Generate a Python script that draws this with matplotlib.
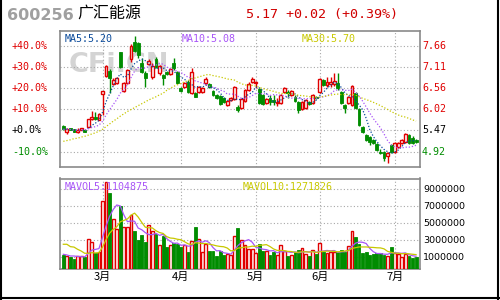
import matplotlib
matplotlib.use('Agg')
import matplotlib.pyplot as plt
from matplotlib.lines import Line2D
import numpy as np
import pandas as pd

plt.rcParams['font.family'] = ['DejaVu Sans', 'Noto Sans CJK SC']

code = '600256'
name = '广汇能源'
quote = '5.17 +0.02 (+0.39%)'
base_price = 5.47

# daily bars, Feb .. early Jul
opens = [5.58, 5.43, 5.53, 5.50, 5.43, 5.49, 5.47, 5.56, 5.76, 5.81,
         5.74, 6.41, 6.87, 7.00, 6.68, 6.69, 7.49, 6.48, 6.69, 7.31,
         7.75, 7.72, 7.21, 6.95, 7.18, 6.85, 7.31, 6.95, 6.90, 6.99,
         6.92, 7.21, 6.97, 6.56, 6.59, 6.72, 6.43, 6.43, 6.46, 6.46,
         6.69, 6.66, 6.48, 6.38, 6.36, 6.30, 6.12, 6.25, 6.28, 6.07,
         6.05, 6.23, 6.51, 6.72, 6.69, 6.54, 6.38, 6.17, 6.30, 6.25,
         6.17, 6.17, 6.46, 6.47, 6.38, 6.33, 6.20, 6.02, 6.05, 6.21,
         6.17, 6.34, 6.46, 6.77, 6.64, 6.66, 6.66, 6.69, 6.46, 6.12,
         6.17, 6.12, 6.43, 6.02, 5.56, 5.35, 5.30, 5.22, 5.12, 4.92,
         4.91, 4.81, 5.09, 4.91, 5.04, 5.14, 5.17, 5.35, 5.27, 5.22]
highs = [5.61, 5.53, 5.54, 5.51, 5.53, 5.54, 5.48, 5.77, 5.97, 5.94,
         5.92, 6.48, 7.15, 7.05, 6.82, 6.85, 7.49, 6.72, 7.05, 7.70,
         7.90, 7.75, 7.34, 7.00, 7.31, 7.21, 7.36, 7.15, 6.92, 7.00,
         7.08, 7.34, 7.00, 6.59, 6.72, 6.77, 7.08, 6.46, 6.61, 6.59,
         6.85, 6.69, 6.51, 6.41, 6.38, 6.33, 6.25, 6.33, 6.61, 6.12,
         6.30, 6.54, 6.72, 6.85, 6.74, 6.56, 6.41, 6.30, 6.38, 6.38,
         6.30, 6.41, 6.59, 6.51, 6.51, 6.38, 6.23, 6.23, 6.28, 6.23,
         6.41, 6.36, 6.82, 6.79, 6.85, 6.85, 6.95, 6.95, 6.48, 6.15,
         6.36, 6.64, 6.46, 6.05, 5.58, 5.37, 5.32, 5.25, 5.14, 4.99,
         4.94, 4.91, 5.12, 5.17, 5.17, 5.25, 5.40, 5.37, 5.32, 5.25]
lows = [5.47, 5.37, 5.47, 5.42, 5.40, 5.48, 5.42, 5.55, 5.74, 5.74,
        5.74, 5.87, 6.85, 6.43, 6.64, 6.66, 7.08, 6.46, 6.66, 7.23,
        7.49, 7.34, 6.95, 6.59, 7.15, 6.79, 7.08, 6.90, 6.64, 6.90,
        6.90, 7.03, 6.66, 6.46, 6.56, 6.43, 6.41, 6.33, 6.43, 6.43,
        6.64, 6.56, 6.36, 6.28, 6.12, 6.17, 6.10, 6.23, 6.25, 5.94,
        6.02, 6.20, 6.48, 6.69, 6.56, 6.15, 6.12, 6.15, 6.12, 6.12,
        6.10, 6.15, 6.43, 6.30, 6.36, 6.20, 5.92, 5.99, 6.02, 6.12,
        6.15, 6.28, 6.43, 6.61, 6.59, 6.59, 6.61, 6.51, 6.15, 5.92,
        6.15, 6.10, 6.02, 5.58, 5.40, 5.19, 5.09, 5.12, 4.94, 4.86,
        4.68, 4.63, 4.88, 4.88, 5.01, 5.12, 5.14, 5.12, 5.12, 5.14]
closes = [5.50, 5.51, 5.48, 5.43, 5.48, 5.53, 5.43, 5.76, 5.81, 5.76,
          5.89, 6.48, 7.13, 6.82, 6.77, 6.82, 7.10, 6.69, 7.03, 7.64,
          7.52, 7.41, 6.97, 6.82, 7.26, 7.13, 7.10, 7.13, 6.82, 6.92,
          7.05, 7.08, 6.69, 6.48, 6.69, 6.46, 6.97, 6.33, 6.59, 6.56,
          6.79, 6.59, 6.38, 6.30, 6.15, 6.20, 6.23, 6.30, 6.59, 5.99,
          6.28, 6.51, 6.66, 6.79, 6.72, 6.17, 6.15, 6.28, 6.20, 6.20,
          6.21, 6.38, 6.56, 6.43, 6.48, 6.23, 5.99, 6.20, 6.25, 6.15,
          6.38, 6.30, 6.79, 6.64, 6.72, 6.72, 6.74, 6.56, 6.17, 6.05,
          6.33, 6.61, 6.05, 5.61, 5.43, 5.22, 5.17, 5.14, 4.96, 4.88,
          4.76, 4.88, 4.91, 5.14, 5.14, 5.22, 5.37, 5.14, 5.15, 5.17]
# volume, millions of shares
volumes_m = [1.27, 1.15, 1.07, 0.84, 1.15, 1.15, 1.04, 3.10, 2.80, 1.54,
             1.62, 7.62, 9.86, 8.53, 5.47, 4.29, 7.04, 4.56, 4.56, 5.94,
             4.09, 3.04, 3.59, 2.84, 4.76, 4.09, 3.78, 2.41, 3.51, 2.25,
             2.41, 2.65, 2.53, 2.25, 2.45, 1.62, 2.92, 4.56, 3.12, 1.62,
             2.53, 1.74, 1.74, 1.15, 1.74, 1.27, 1.42, 1.23, 3.51, 4.45,
             3.00, 2.45, 1.98, 2.01, 1.47, 2.53, 1.74, 1.74, 1.27, 1.62,
             1.27, 2.41, 1.74, 1.15, 1.27, 1.62, 1.86, 2.13, 1.42, 1.15,
             1.86, 1.42, 2.65, 1.62, 1.47, 1.62, 1.62, 1.62, 1.86, 1.62,
             2.33, 4.09, 3.39, 2.53, 1.47, 1.62, 1.23, 1.42, 1.47, 1.47,
             1.23, 1.15, 2.25, 1.54, 1.35, 1.04, 1.42, 1.15, 0.95, 1.04]

# moving average values before a full window exists
ma30_lead = [5.19, 5.21, 5.23, 5.26, 5.27, 5.30, 5.32, 5.35, 5.38, 5.41,
             5.45, 5.50, 5.57, 5.64, 5.71, 5.77, 5.84, 5.90, 5.96, 6.01,
             6.06, 6.11, 6.16, 6.21, 6.26, 6.30, 6.34, 6.39, 6.43]
vol_ma5_lead = [1.35, 1.27, 1.15, 1.15]
vol_ma10_lead = [2.53, 2.53, 2.25, 2.20, 1.94, 1.74, 1.47, 1.47, 1.54]

month_start = [11, 33, 54, 72, 93]
month_names = ['3月', '4月', '5月', '6月', '7月']

ma_labels = ['MA5:5.20', 'MA10:5.08', 'MA30:5.70']
vol_labels = ['MAVOL5:1104875', 'MAVOL10:1271826']
vol_ticks = [1000000, 3000000, 5000000, 7000000, 9000000]

RED = '#e00000'
GREEN = '#008c00'
MA_COLORS = ['#0a4a9a', '#a855f7', '#c8c800']
GRID = '#a8a8a8'
MONO = 'DejaVu Sans Mono'


def moving(values, n, lead=None):
    s = pd.Series(values).rolling(n, min_periods=1).mean()
    if lead is not None:
        s.iloc[:len(lead)] = lead
    return s.values


def px_box(left, top, right, bottom):
    return [left / 500, 1 - bottom / 300, (right - left) / 500, (bottom - top) / 300]


def fx(x):
    return x / 500


def fy(y):
    return 1 - y / 300


o = np.array(opens)
h = np.array(highs)
l = np.array(lows)
c = np.array(closes)
vol = np.array(volumes_m) * 1e6
idx = np.arange(len(c))
up = c >= o

fig = plt.figure(figsize=(5, 3), dpi=100)
fig.patch.set_facecolor('white')

ax = fig.add_axes(px_box(60, 31, 420, 167))
axv = fig.add_axes(px_box(60, 178.5, 420, 269))

xlim = (-0.93, 100.1)
levels = [base_price * (1 + k / 10) for k in range(-1, 5)]

for a in (ax, axv):
    a.set_xlim(*xlim)
    a.set_xticks([])
    a.set_yticks([])
    for sp in a.spines.values():
        sp.set_color('#8a8a8a')
        sp.set_linewidth(1.2)
    for m in month_start:
        a.axvline(m, color=GRID, lw=0.8, ls=(0, (1, 2)), zorder=1)

ax.set_ylim(4.528, 8.037)
for lv in levels:
    ax.axhline(lv, color=GRID, lw=0.8, ls=(0, (1, 2)), zorder=1)

# watermark
ax.text(fx(69), fy(65), 'CFi.CN', transform=fig.transFigure, fontsize=19.5,
        fontweight='bold', color='#d4d4d4', va='center', ha='left', zorder=0.5)

# candles
ax.vlines(idx, l, h, colors=np.where(up, RED, GREEN), lw=1.0, zorder=2)
body = np.maximum(np.abs(c - o), 0.015)
ax.bar(idx[up], body[up], bottom=np.minimum(o, c)[up], width=0.8,
       facecolor='white', edgecolor=RED, lw=1.0, zorder=3)
ax.bar(idx[~up], body[~up], bottom=np.minimum(o, c)[~up], width=0.8,
       facecolor=GREEN, edgecolor=GREEN, lw=0.6, zorder=3)

for n, col, lead in zip([5, 10, 30], MA_COLORS, [None, None, ma30_lead]):
    ax.plot(idx, moving(c, n, lead), color=col, lw=0.9, ls=(0, (1, 1.5)), zorder=4)

# volume
vmin, vmax = -0.38e6, 10.27e6
axv.set_ylim(vmin, vmax)
for t in vol_ticks:
    axv.axhline(t, color=GRID, lw=0.8, ls=(0, (1, 2)), zorder=1)
axv.bar(idx[up], vol[up] - vmin, bottom=vmin, width=0.8,
        facecolor='white', edgecolor=RED, lw=1.0, zorder=3)
axv.bar(idx[~up], vol[~up] - vmin, bottom=vmin, width=0.8,
        facecolor=GREEN, edgecolor=GREEN, lw=0.6, zorder=3)
axv.plot(idx, moving(vol, 5, np.array(vol_ma5_lead) * 1e6), color=MA_COLORS[1], lw=0.9, zorder=4)
axv.plot(idx, moving(vol, 10, np.array(vol_ma10_lead) * 1e6), color=MA_COLORS[2], lw=0.9, zorder=4)

# header
fig.text(fx(7), fy(16), code, fontsize=11.5, fontweight='bold', color='#a0a0a0', va='center')
fig.text(fx(77), fy(14.5), name, fontsize=11.5, color='black', va='center',
         family='Noto Sans CJK SC')
fig.text(fx(246), fy(14.5), quote, fontsize=9.6, color='#d00000', va='center', family=MONO)

# MA captions
for s, col, x in zip(ma_labels, MA_COLORS, [65, 182, 302]):
    fig.text(fx(x), fy(38.5), s, fontsize=7.2, color=col, va='center', family=MONO)
for s, col, x in zip(vol_labels, MA_COLORS[1:], [65, 243]):
    fig.text(fx(x), fy(186.5), s, fontsize=7.2, color=col, va='center', family=MONO)

# price axis labels
for k, lv in zip(range(-1, 5), levels):
    yy = ax.transData.transform((0, lv))[1] / fig.bbox.height
    col = RED if k > 0 else ('black' if k == 0 else GREEN)
    pct = '%+.1f%%' % (k * 10.0)
    fig.text(fx(12), yy, pct, fontsize=7.2, color=col, va='center', family=MONO)
    fig.text(fx(422), yy, '%.2f' % lv, fontsize=7.2, color=col, va='center', family=MONO)

for t in vol_ticks:
    yy = axv.transData.transform((0, t))[1] / fig.bbox.height
    fig.text(fx(423), yy, str(t), fontsize=6.8, color='black', va='center')

for m, s in zip(month_start, month_names):
    xx = ax.transData.transform((m, 0))[0] / fig.bbox.width
    fig.text(xx, fy(277), s, fontsize=8, color='black', ha='center', va='center',
             family='Noto Sans CJK SC')

# outer frame
for xs, ys in [([0.001, 0.001], [0, 1]), ([0.996, 0.996], [0, 1]), ([0, 1], [0.007, 0.007])]:
    fig.add_artist(Line2D(xs, ys, color='black', lw=1.5, transform=fig.transFigure))

fig.savefig('out.png', dpi=100)
